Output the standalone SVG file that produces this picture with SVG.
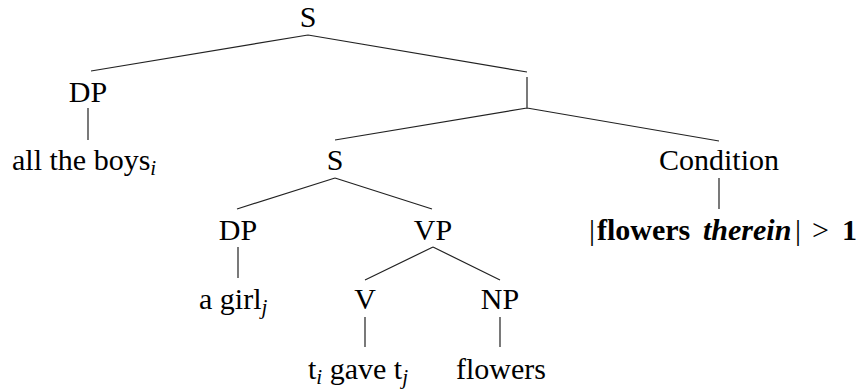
<svg xmlns="http://www.w3.org/2000/svg" width="860" height="389" viewBox="0 0 860 389">
<style>
.e{stroke:#222;stroke-width:1.2;fill:none}
</style>
<g id="edges" class="e">
<path d="M308 35L91 71M308 35L527 72M527 77V108M527 108L335 140M527 108L719 141M88 108V140M335 178L237 209M335 178L432 209M719 178V209M238 247V278M433 247L365 280M433 247L500 280M365 317V347M500 317V347"/>
</g>
<g id="n-S"><text x="308" y="27" font-family="Liberation Serif" font-size="30" text-anchor="middle">S</text></g>
<g id="n-DP1"><text x="88" y="102" font-family="Liberation Serif" font-size="30" text-anchor="middle">DP</text></g>
<g id="n-boys"><text x="12" y="170" font-family="Liberation Serif" font-size="30">all the boys<tspan font-size="21" font-style="italic" dy="5">i</tspan></text></g>
<g id="n-S2"><text x="335" y="170" font-family="Liberation Serif" font-size="30" text-anchor="middle">S</text></g>
<g id="n-Cond"><text x="719" y="170" font-family="Liberation Serif" font-size="30" text-anchor="middle">Condition</text></g>
<g id="n-formula"><text x="589" y="240" font-family="Liberation Serif" font-size="30">|<tspan font-weight="bold" x="597">flowers</tspan><tspan font-weight="bold" font-style="italic" x="703">therein</tspan><tspan x="795">|</tspan><tspan x="812">&gt;</tspan><tspan font-weight="bold" x="842">1</tspan></text></g>
<g id="n-DP2"><text x="238" y="240" font-family="Liberation Serif" font-size="30" text-anchor="middle">DP</text></g>
<g id="n-VP"><text x="433" y="240" font-family="Liberation Serif" font-size="30" text-anchor="middle">VP</text></g>
<g id="n-girl"><text x="199" y="309" font-family="Liberation Serif" font-size="30">a girl<tspan font-size="21" font-style="italic" dy="5">j</tspan></text></g>
<g id="n-V"><text x="365" y="309" font-family="Liberation Serif" font-size="30" text-anchor="middle">V</text></g>
<g id="n-NP"><text x="500" y="309" font-family="Liberation Serif" font-size="30" text-anchor="middle">NP</text></g>
<g id="n-gave"><text x="308" y="379" font-family="Liberation Serif" font-size="30">t<tspan font-size="21" font-style="italic" dy="5">i</tspan><tspan dy="-5"> gave t</tspan><tspan font-size="21" font-style="italic" dy="5">j</tspan></text></g>
<g id="n-flowers"><text x="456" y="379" font-family="Liberation Serif" font-size="30">flowers</text></g>
</svg>
